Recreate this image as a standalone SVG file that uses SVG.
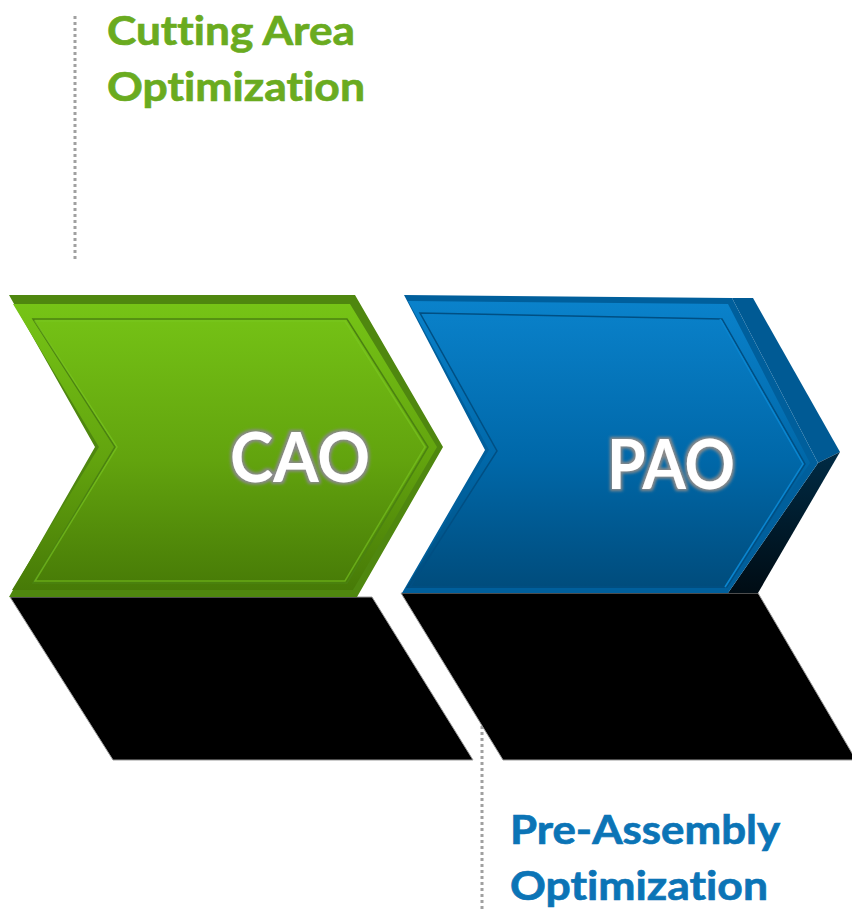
<svg xmlns="http://www.w3.org/2000/svg" width="852" height="909" viewBox="0 0 852 909">
<defs>
<style>
.lbl{font-family:Lato,"Open Sans","Liberation Sans",sans-serif;font-weight:bold;font-size:40px;font-variant-ligatures:none;font-feature-settings:"liga" 0,"clig" 0,"dlig" 0;stroke-width:0.7}
.big{font-family:Lato,"Open Sans","Liberation Sans",sans-serif;font-weight:bold;font-size:68px;fill:#fff;font-variant-ligatures:none}
.dot{stroke:#a0a0a0;stroke-width:3;stroke-dasharray:3 3;fill:none}
.shadow{fill:#000;stroke:#9a9a9a;stroke-width:1}
.frame{fill:none;stroke-width:1.5}
</style>
<linearGradient id="gGreen" x1="0" y1="0" x2="0" y2="1">
<stop offset="0" stop-color="#76c416"/>
<stop offset="0.55" stop-color="#62a30e"/>
<stop offset="1" stop-color="#477a07"/>
</linearGradient>
<linearGradient id="gBlue" x1="0" y1="0" x2="0" y2="1">
<stop offset="0" stop-color="#0a82cb"/>
<stop offset="0.55" stop-color="#0068a9"/>
<stop offset="1" stop-color="#004c7c"/>
</linearGradient>
<linearGradient id="gBlueSide" x1="0" y1="0" x2="0" y2="1">
<stop offset="0" stop-color="#002b45"/>
<stop offset="1" stop-color="#000c14"/>
</linearGradient>
<filter id="glow" x="-20%" y="-30%" width="140%" height="160%">
<feMorphology in="SourceAlpha" operator="dilate" radius="1.5" result="d"/>
<feGaussianBlur in="d" stdDeviation="1.5" result="b"/>
<feFlood flood-color="#8a8a8a"/>
<feComposite in2="b" operator="in" result="s"/>
<feMerge><feMergeNode in="s"/><feMergeNode in="SourceGraphic"/></feMerge>
</filter>
</defs>

<g id="connectors">
<line class="dot" x1="75" y1="16" x2="75" y2="262"/>
<line class="dot" x1="482" y1="726" x2="482" y2="909"/>
</g>

<g id="shadows">
<polygon class="shadow" points="10,597 372,597 473,760 113,760"/>
<polygon class="shadow" points="401,593 758,593 856,760 503,760"/>
</g>

<g id="node-cao">
<polygon points="9,295 355,295 443,447 357,597 9,597 95,447" fill="#4f870f"/>
<polygon points="13,304 350,304 437,447 353,590 12,590 99,447" fill="url(#gGreen)"/>
<polygon class="frame" points="33,319 347,319 428,447 347,583 33,583 115,447" stroke="#4b8211"/>
<polygon class="frame" points="35,321 345,321 425,447 345,581 35,581 117,447" stroke="#7cc823" stroke-width="0.8" opacity="0.6"/>
<text class="big" x="230" y="482" textLength="140" lengthAdjust="spacingAndGlyphs" filter="url(#glow)">CAO</text>
</g>

<g id="node-pao">
<polygon points="732,298 753,298 840,452 818,463" fill="#005a94"/>
<polygon points="818,463 840,452 758,593 728,593" fill="url(#gBlueSide)"/>
<polygon points="404,295 732,298 818,463 728,593 402,593 485,450" fill="#005f9c"/>
<polygon points="408,301 728,304 810,463 724,588 406,588 489,450" fill="url(#gBlue)"/>
<polygon class="frame" points="420,313 722,319 805,464 727,587 410,587 497,451" stroke="#004f83"/>
<polyline class="frame" points="722,319 805,464 727,587" stroke="#0a85cf" stroke-width="0.8" transform="translate(-2,0)"/>
<text class="big" x="607" y="489" textLength="128" lengthAdjust="spacingAndGlyphs" filter="url(#glow)">PAO</text>
</g>

<g id="labels">
<text class="lbl" x="107" y="45" fill="#6aab1f" stroke="#6aab1f" textLength="248" lengthAdjust="spacingAndGlyphs">Cutting Area</text>
<text class="lbl" x="107" y="101" fill="#6aab1f" stroke="#6aab1f" textLength="258" lengthAdjust="spacingAndGlyphs">Optimization</text>
<text class="lbl" x="510" y="844" fill="#0b74b6" stroke="#0b74b6" textLength="270" lengthAdjust="spacingAndGlyphs">Pre-Assembly</text>
<text class="lbl" x="510" y="900" fill="#0b74b6" stroke="#0b74b6" textLength="258" lengthAdjust="spacingAndGlyphs">Optimization</text>
</g>
</svg>
